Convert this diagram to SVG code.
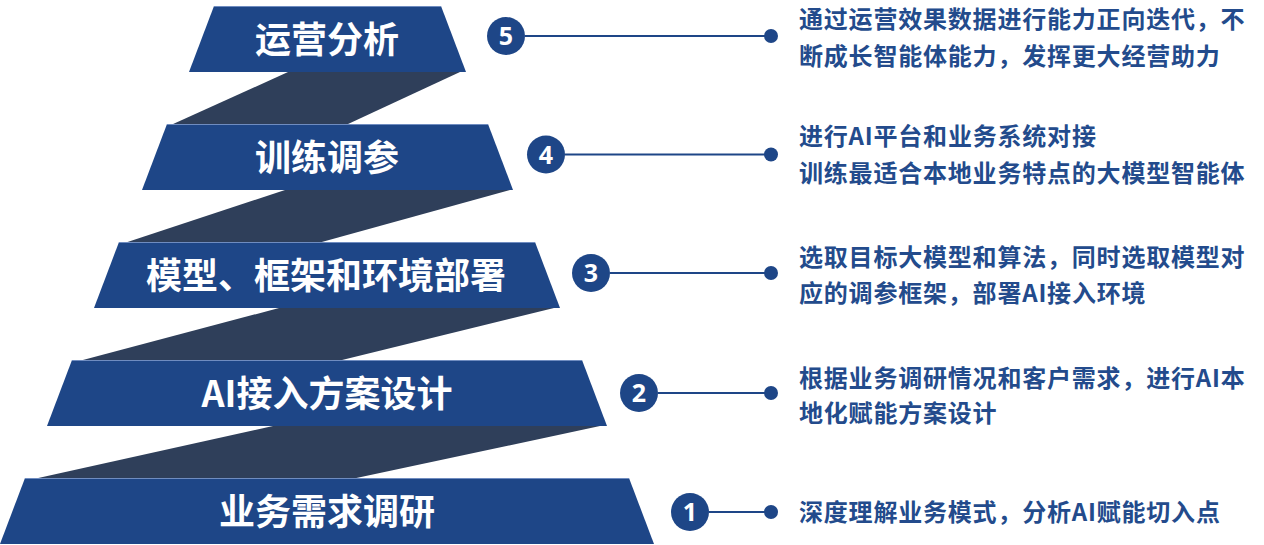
<svg xmlns="http://www.w3.org/2000/svg" width="1264" height="545" viewBox="0 0 1264 545">
  <style>
    .trap { fill: #1e4687; }
    .edge { stroke: #6f8cc0; stroke-width: 1; }
    .band { fill: #2f3f5a; }
    .title { font-family: "Noto Sans CJK SC", "Noto Sans", sans-serif; font-weight: 700; font-size: 36px; fill: #ffffff; text-anchor: middle; }
    .num { font-family: "Noto Sans", "Open Sans", sans-serif; font-weight: 700; font-size: 25px; fill: #ffffff; text-anchor: middle; }
    .badge { fill: #1e4687; }
    .desc { font-family: "Noto Sans CJK SC", "Noto Sans", sans-serif; font-weight: 700; font-size: 24px; letter-spacing: 0.8px; fill: #234b8c; }
    .lead { stroke: #1e4687; stroke-width: 2; fill: none; }
    .dot { fill: #1e4687; }
  </style>

  <g id="connectors">
    <polygon class="band" points="288,72 460,72 347,124.5 172,124.5"/>
    <polygon class="band" points="285,190 510,190 320,242.5 126,242.5"/>
    <polygon class="band" points="279,308 554,308 340,360.5 81,360.5"/>
    <polygon class="band" points="273,426 600,426 354,478.5 36,478.5"/>
    <line class="lead" x1="525" y1="36" x2="771" y2="36"/>
    <line class="lead" x1="565" y1="154.5" x2="771" y2="154.5"/>
    <line class="lead" x1="610" y1="273" x2="771" y2="273"/>
    <line class="lead" x1="658" y1="393" x2="771" y2="393"/>
    <line class="lead" x1="709" y1="512" x2="771" y2="512"/>
    <circle class="dot" cx="771" cy="36" r="7"/>
    <circle class="dot" cx="771" cy="154.5" r="7"/>
    <circle class="dot" cx="771" cy="273" r="7"/>
    <circle class="dot" cx="771" cy="393" r="7"/>
    <circle class="dot" cx="771" cy="512" r="7"/>
  </g>

  <g id="step5">
    <polygon class="trap" points="214,6 441,6 466,72 189,72"/>
    <line class="edge" x1="214" y1="6.5" x2="441" y2="6.5"/>
    <text class="title" x="327" y="52.5">运营分析</text>
    <circle class="badge" cx="506" cy="36" r="19"/>
    <text class="num" x="506" y="45">5</text>
    <text class="desc" x="799" y="27.5">通过运营效果数据进行能力正向迭代，不</text>
    <text class="desc" x="799" y="65">断成长智能体能力，发挥更大经营助力</text>
  </g>

  <g id="step4">
    <polygon class="trap" points="167,124 488,124 513,190 142,190"/>
    <line class="edge" x1="167" y1="124.5" x2="488" y2="124.5"/>
    <text class="title" x="327" y="170.5">训练调参</text>
    <circle class="badge" cx="546" cy="154.5" r="19"/>
    <text class="num" x="546" y="163.5">4</text>
    <text class="desc" x="799" y="145">进行AI平台和业务系统对接</text>
    <text class="desc" x="799" y="182">训练最适合本地业务特点的大模型智能体</text>
  </g>

  <g id="step3">
    <polygon class="trap" points="119,242 535,242 560,308 94,308"/>
    <line class="edge" x1="119" y1="242.5" x2="535" y2="242.5"/>
    <text class="title" x="326" y="288.5">模型、框架和环境部署</text>
    <circle class="badge" cx="591" cy="273" r="19"/>
    <text class="num" x="591" y="282">3</text>
    <text class="desc" x="799" y="266">选取目标大模型和算法，同时选取模型对</text>
    <text class="desc" x="799" y="301.5">应的调参框架，部署AI接入环境</text>
  </g>

  <g id="step2">
    <polygon class="trap" points="72,360 582,360 607,426 47,426"/>
    <line class="edge" x1="72" y1="360.5" x2="582" y2="360.5"/>
    <text class="title" x="327" y="406.5">AI接入方案设计</text>
    <circle class="badge" cx="639" cy="393" r="19"/>
    <text class="num" x="639" y="402">2</text>
    <text class="desc" x="799" y="387">根据业务调研情况和客户需求，进行AI本</text>
    <text class="desc" x="799" y="422">地化赋能方案设计</text>
  </g>

  <g id="step1">
    <polygon class="trap" points="25,478 629,478 654,544 0,544"/>
    <line class="edge" x1="25" y1="478.5" x2="629" y2="478.5"/>
    <text class="title" x="327" y="524.5">业务需求调研</text>
    <circle class="badge" cx="690" cy="512" r="19"/>
    <text class="num" x="690" y="521">1</text>
    <text class="desc" x="799" y="521">深度理解业务模式，分析AI赋能切入点</text>
  </g>
</svg>
